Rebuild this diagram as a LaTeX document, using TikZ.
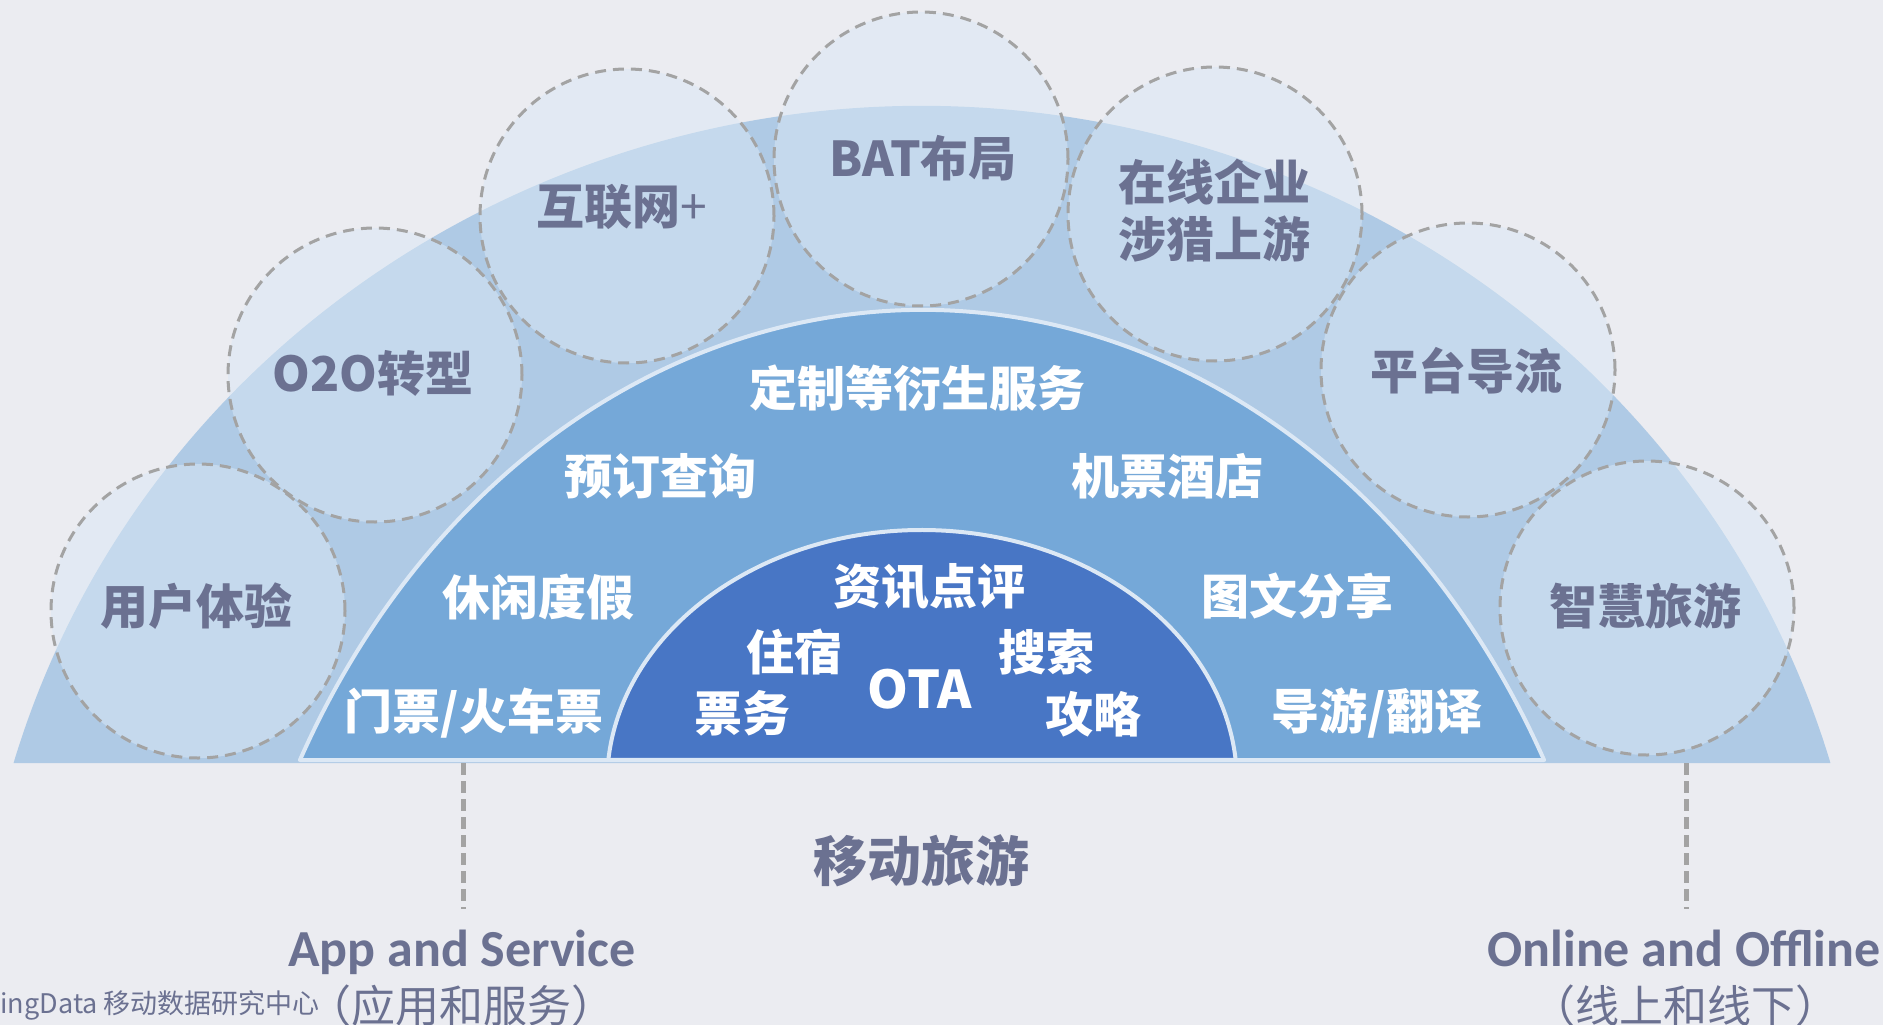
\documentclass[tikz,border=0pt]{standalone}
\usepackage{fontspec}
\setmainfont{Noto Sans CJK SC}
\newfontfamily\legendfont{Carlito}
\usepackage{tikz}

\definecolor{pagebg}{HTML}{EBECF1}
\definecolor{outerblue}{HTML}{AFCAE5}
\definecolor{bubblefill}{HTML}{DBE8F5}
\definecolor{dashgray}{HTML}{A3A3A3}
\definecolor{slate}{HTML}{6B7191}
\definecolor{midblue}{HTML}{75A8D8}
\definecolor{innerblue}{HTML}{4876C5}
\definecolor{rimwhite}{HTML}{DCE8F5}

\begin{document}
\begin{tikzpicture}[x=1pt,y=1pt,
  bubble/.style={circle,minimum size=294pt,inner sep=0pt,
    fill=bubblefill,fill opacity=0.5,
    draw=dashgray,line width=3pt,dash pattern=on 11pt off 7pt},
  rimtext/.style={text=slate,inner sep=0pt,align=center,font=\bfseries\fontsize{48}{57}\selectfont},
  onblue/.style={text=white,inner sep=0pt,font=\bfseries\fontsize{48}{57}\selectfont},
  dome/.style={draw=rimwhite,line width=4pt,line join=round},
  legend/.style={text=slate,inner sep=0pt,anchor=base,font=\legendfont\bfseries\fontsize{52}{60}\selectfont},
  sublegend/.style={text=slate,inner sep=0pt,anchor=base,font=\fontsize{44}{52}\selectfont},
  leader/.style={dashgray,line width=5pt,dash pattern=on 12pt off 6pt}]
%% canvas
\useasboundingbox (0,0) rectangle (1883,-1025);
\clip (0,0) rectangle (1883,-1025);
\fill[pagebg] (0,0) rectangle (1883,-1025);
%% outer dome
\fill[outerblue] (922,-1017) ++(163.81:946pt and 911pt)
  arc[start angle=163.81,end angle=16.19,x radius=946pt,y radius=911pt] -- cycle;
%% bubbles on the rim
\foreach \n/\x/\y in {ux/198/611, oto/375/375, net/627/216, bat/921/159,
    upstream/1215/214, flow/1468/370, smart/1647/608}
  \node[bubble] (\n) at (\x,-\y) {};
\foreach \n/\x/\y/\txt in {ux/196/606/用户体验, oto/373/373/O2O转型,
    net/622/207/{互联网{\mdseries +}}, bat/923/158/BAT布局,
    upstream/1214/211/{在线企业\\涉猎上游}, flow/1466/371/平台导流, smart/1645/606/智慧旅游}
  \node[rimtext] (\n-txt) at (\x,-\y) {\txt};
%% middle dome
\filldraw[dome,fill=midblue] (922,-1160) ++(151.93:705pt and 850pt)
  arc[start angle=151.93,end angle=28.07,x radius=705pt,y radius=850pt] -- cycle;
%% inner dome
\filldraw[dome,fill=innerblue] (922,-783) ++(174.78:315pt and 253pt)
  arc[start angle=174.78,end angle=5.22,x radius=315pt,y radius=253pt] -- cycle;
%% services
\foreach \n/\x/\y/\txt in {custom/917/388/定制等衍生服务, booking/660/476/预订查询,
    flighthotel/1167/476/机票酒店, leisure/538/597/休闲度假, sharing/1297/596/图文分享,
    tickets/474/713/{门票/火车票}, tourguide/1377/713/{导游/翻译},
    info/929/587/资讯点评, stay/794/652/住宿, search/1046/652/搜索,
    ticketing/742/713/票务, tips/1093/714/攻略}
  \node[onblue] (\n) at (\x,-\y) {\txt};
\node[onblue,font=\bfseries\fontsize{52}{60}\selectfont] (ota) at (920,-689) {OTA};
%% caption and legends
\node[text=slate,inner sep=0pt,font=\bfseries\fontsize{54}{60}\selectfont] (mobile) at (921,-861) {移动旅游};
\coordinate (appTop) at (463,-763);
\coordinate (appEnd) at (463,-909);
\coordinate (olTop) at (1686,-763);
\coordinate (olEnd) at (1686,-909);
\draw[leader] (appTop) -- (appEnd);
\draw[leader] (olTop) -- (olEnd);
\node[legend] (appsvc) at (462,-966) {App and Service};
\node[sublegend] (appcn) at (461,-1022) {（应用和服务）};
\node[legend] (online) at (1684,-966) {Online and Offline};
\node[sublegend] (onlinecn) at (1685,-1022) {（线上和线下）};
\node[text=slate,inner sep=0pt,anchor=base east,font=\fontsize{27}{30}\selectfont] (brand) at (320,-1013) {ingData 移动数据研究中心};
\end{tikzpicture}
\end{document}
